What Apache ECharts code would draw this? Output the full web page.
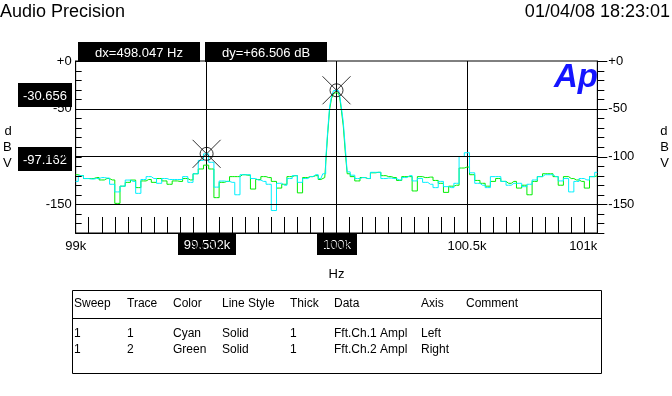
<!DOCTYPE html>
<html>
<head>
<meta charset="utf-8">
<script src="https://cdn.jsdelivr.net/npm/echarts@6/dist/echarts.min.js"></script>
<style>
html,body{margin:0;padding:0;background:#fff;}
#chart{width:672px;height:396px;}
</style>
</head>
<body>
<div id="chart"></div>
<script>
// ---------------- data ----------------
const freqs = [
  99000, 99020, 99040, 99060, 99080, 99100, 99120, 99140, 99160, 99180,
  99200, 99220, 99240, 99260, 99280, 99300, 99320, 99340, 99360, 99380,
  99400, 99420, 99440, 99460, 99480, 99500, 99520, 99540, 99560, 99580,
  99600, 99620, 99640, 99660, 99680, 99700, 99720, 99740, 99760, 99780,
  99800, 99820, 99840, 99860, 99880, 99900, 99920, 99940, 99955, 99962,
  99970, 99977, 99985, 99992, 100000, 100008, 100015, 100022, 100030, 100037,
  100045, 100060, 100080, 100100, 100120, 100140, 100160, 100180, 100200, 100220,
  100240, 100260, 100280, 100300, 100320, 100340, 100360, 100380, 100400, 100420,
  100440, 100460, 100480, 100500, 100520, 100540, 100560, 100580, 100600, 100620,
  100640, 100660, 100680, 100700, 100720, 100740, 100760, 100780, 100800, 100820,
  100840, 100860, 100880, 100900, 100920, 100940, 100960, 100980, 101000
];
const cyanDb = [
  -126, -120, -123, -123.5, -123, -122, -122.5, -129, -137, -131,
  -124.6, -126, -138.5, -124, -121, -123, -128, -123, -124, -124,
  -124, -121, -127, -118, -104, -97.2, -106, -132, -125.6, -126,
  -127, -140, -119, -119, -123, -124.6, -126, -129, -156.5, -128,
  -130, -123, -120, -127, -123, -121, -119, -123, -118, -104,
  -74, -48, -37, -31, -30.656, -31, -35, -48, -64, -90,
  -116, -119.5, -123, -122, -123, -116.5, -116.5, -123, -122.5, -123,
  -124.5, -122, -120, -125.5, -123, -127, -129, -132.5, -126, -131.5,
  -132.5, -128, -100, -96, -117, -128, -130, -132.5, -121, -121,
  -126, -130, -128, -128, -131.5, -129, -124.5, -121, -119, -119,
  -121, -125.5, -123, -137, -126, -123, -124.5, -121, -116.5
];
const greenDb = [
  -119, -120, -123, -123, -122, -124.5, -123, -124.5, -149, -131,
  -127, -124.6, -132.5, -125.5, -124, -127, -123, -125.5, -129, -125.5,
  -126, -123, -124.5, -118, -113, -109, -113, -143, -127, -126,
  -121, -121, -119, -119.5, -134, -124, -121, -122, -126, -133,
  -129, -121, -120, -138, -122, -121, -120, -124, -122, -108,
  -77, -51, -39, -34, -33, -34, -37, -51, -68, -95,
  -118, -121, -125.5, -122, -123, -117, -116.5, -120, -121, -122,
  -125, -121, -121, -136, -121, -122, -121.5, -125, -128, -137.5,
  -131, -130, -112, -111, -119, -125, -128, -131, -126, -123,
  -126, -128, -126, -133, -130, -140, -126, -121, -118, -118,
  -121, -130, -121, -123, -124.5, -126, -133, -121, -120
];
const xTickLabels = {99000: '99k', 99500: '99.5k', 100000: '100k', 100500: '100.5k', 101000: '101k'};
const yMajorValues = [0, -50, -100, -150];
const yMinorTickValues = [0, -10, -20, -30, -40, -50, -60, -70, -80, -90, -100,
  -110, -120, -130, -140, -150, -160, -170, -180];
const cursorFreqs = [99502, 100000];
const cursorDb = [-97.162, -30.656];
const cursorXText = ['99.502k', '100k'];
const cursorYText = ['-97.162', '-30.656'];
const deltaTexts = ['dx=498.047 Hz', 'dy=+66.506 dB'];
const titleText = 'Audio Precision';
const dateText = '01/04/08 18:23:01';
const tableHeader = ['Sweep', 'Trace', 'Color', 'Line Style', 'Thick', 'Data', 'Axis', 'Comment'];
const tableRows = [
  ['1', '1', 'Cyan', 'Solid', '1', 'Fft.Ch.1 Ampl', 'Left', ''],
  ['1', '2', 'Green', 'Solid', '1', 'Fft.Ch.2 Ampl', 'Right', '']
];

// ---------------- chart ----------------
const FONT = '"Liberation Sans", Arial, sans-serif';
const chart = echarts.init(document.getElementById('chart'), null, {renderer: 'canvas'});
const cyanData = freqs.map((f, i) => [f, cyanDb[i]]);
const greenData = freqs.map((f, i) => [f, greenDb[i]]);
const cursorData = cursorFreqs.map((f, i) => [f, cursorDb[i]]);
const X_MIN = 99000, X_MAX = 101000;

function yLabel(v) {
  if (yMajorValues.indexOf(v) < 0) return '';
  return v === 0 ? '+0' : String(v);
}

const yCommon = {
  type: 'value', min: -180, max: 0, interval: 10,
  splitLine: {show: false},
  axisTick: {show: false},
  axisLine: {show: true, onZero: false, lineStyle: {color: '#000', width: 1}},
  nameLocation: 'middle', nameRotate: 0,
  nameTextStyle: {color: '#000', fontSize: 13, fontFamily: FONT, lineHeight: 16}
};

function renderYTicks(params, api) {
  const v = api.value(1);
  const l = api.coord([X_MIN, v]);
  const r = api.coord([X_MAX, v]);
  const y = Math.round(l[1]) + 0.5;
  const major = yMajorValues.indexOf(v) >= 0;
  const st = {stroke: '#000', lineWidth: 1, fill: null};
  return {
    type: 'group', children: [
      {type: 'line', shape: {x1: l[0], y1: y, x2: l[0] + 6, y2: y}, style: st},
      {type: 'line', shape: {x1: r[0], y1: y, x2: r[0] + (major ? 10 : 7), y2: y}, style: st}
    ]
  };
}

const option = {
  animation: false,
  backgroundColor: '#fff',
  grid: {left: 72, top: 61, width: 528, height: 172, show: true, borderColor: '#000', borderWidth: 1, backgroundColor: 'transparent'},
  xAxis: [
    {
      type: 'value', min: X_MIN, max: X_MAX, interval: 500, position: 'bottom',
      axisLine: {show: true, onZero: false, lineStyle: {color: '#000'}},
      axisTick: {show: false},
      splitLine: {show: true, lineStyle: {color: '#000', width: 1}},
      axisLabel: {
        color: '#000', fontSize: 13, fontFamily: FONT, margin: 7,
        formatter: v => xTickLabels[v] || '',
        alignMinLabel: 'center', alignMaxLabel: 'right'
      },
      name: 'Hz', nameLocation: 'middle', nameGap: 35,
      nameTextStyle: {color: '#000', fontSize: 13, fontFamily: FONT}
    },
    {
      type: 'value', min: X_MIN, max: X_MAX, interval: 50, position: 'bottom',
      axisLine: {show: false, onZero: false},
      axisTick: {show: true, inside: true, length: 16, lineStyle: {color: '#000'}},
      splitLine: {show: false},
      axisLabel: {show: false}
    }
  ],
  yAxis: [
    Object.assign({}, yCommon, {
      position: 'left',
      axisLabel: {color: '#000', fontSize: 13, fontFamily: FONT, margin: 4, formatter: yLabel},
      name: 'd\nB\nV', nameGap: 64
    }),
    Object.assign({}, yCommon, {
      position: 'right',
      axisLabel: {color: '#000', fontSize: 13, fontFamily: FONT, margin: 11, formatter: yLabel},
      name: 'd\nB\nV', nameGap: 63
    })
  ],
  series: [
    {
      name: 'yTicks', type: 'custom', coordinateSystem: 'cartesian2d', xAxisIndex: 0, yAxisIndex: 0,
      silent: true, clip: false, z: 5,
      data: yMinorTickValues.map(v => [X_MIN, v]), encode: {x: 0, y: 1}, renderItem: renderYTicks
    },
    {
      name: 'Ch2', type: 'line', step: 'middle', yAxisIndex: 1, data: greenData,
      showSymbol: false, symbol: 'none', lineStyle: {color: '#00ee00', width: 1}, z: 3,
      markLine: {
        silent: true, symbol: ['none', 'none'], label: {show: false},
        lineStyle: {color: '#000', width: 1, type: 'solid'},
        data: [{yAxis: -50}, {yAxis: -100}, {yAxis: -150}]
      }
    },
    {
      name: 'Ch1', type: 'line', step: 'middle', yAxisIndex: 0, data: cyanData,
      showSymbol: false, symbol: 'none', lineStyle: {color: '#00f0ff', width: 1}, z: 4
    },
    {
      name: 'cursorCircle', type: 'scatter', yAxisIndex: 0, data: cursorData,
      symbol: 'circle', symbolSize: 13, z: 6,
      itemStyle: {color: 'rgba(0,0,0,0)', borderColor: '#000', borderWidth: 1}
    },
    {
      name: 'cursorX', type: 'scatter', yAxisIndex: 0, data: cursorData,
      symbol: 'path://M0,0L10,10M10,0L0,10', symbolSize: 28, z: 6,
      itemStyle: {color: 'rgba(0,0,0,0)', borderColor: '#000', borderWidth: 1}
    }
  ]
};
chart.setOption(option);

// ---------------- annotations ----------------
function box(x, y, w, h, text) {
  return {
    type: 'group', children: [
      {type: 'rect', shape: {x: x, y: y, width: w, height: h}, style: {fill: '#000'}},
      {type: 'text', style: {text: text, x: x + w / 2, y: y + h / 2 + 1, align: 'center', verticalAlign: 'middle',
        fill: '#fff', font: '13px ' + FONT}}
    ]
  };
}
const graphics = [];
graphics.push({type: 'text', style: {text: titleText, x: 0, y: 3, fill: '#000', font: '18px ' + FONT}});
graphics.push({type: 'text', style: {text: dateText, x: 670, y: 3, align: 'right', fill: '#000', font: '18px ' + FONT}});
graphics.push(box(78, 42, 122, 20, deltaTexts[0]));
graphics.push(box(205, 42, 122, 20, deltaTexts[1]));
const xw = [58, 40];
cursorFreqs.forEach((f, i) => {
  const p = chart.convertToPixel({xAxisIndex: 0, yAxisIndex: 0}, [f, cursorDb[i]]);
  graphics.push(box(Math.round(p[0] - xw[i] / 2), 233, xw[i], 22, cursorXText[i]));
  graphics.push(box(18, Math.round(p[1] - 7), 54, 24, cursorYText[i]));
});
// Ap logo
graphics.push({type: 'text', style: {text: 'Ap', x: 598, y: 61, align: 'right', fill: '#1414ff',
  font: 'italic bold 33px ' + FONT}});
// table
const colX = [74, 127, 173, 222, 290, 334, 421, 466];
graphics.push({type: 'rect', shape: {x: 72.5, y: 290.5, width: 529, height: 83}, style: {fill: 'none', stroke: '#000', lineWidth: 1}});
graphics.push({type: 'line', shape: {x1: 72.5, y1: 318.5, x2: 601.5, y2: 318.5}, style: {stroke: '#000', lineWidth: 1}});
tableHeader.forEach((t, c) => graphics.push({type: 'text', style: {text: t, x: colX[c], y: 304, verticalAlign: 'middle', fill: '#000', font: '12px ' + FONT}}));
tableRows.forEach((row, r) => row.forEach((t, c) => graphics.push({type: 'text', style: {text: t, x: colX[c], y: 334 + r * 16, verticalAlign: 'middle', fill: '#000', font: '12px ' + FONT}})));
chart.setOption({graphic: graphics});
</script>
</body>
</html>
